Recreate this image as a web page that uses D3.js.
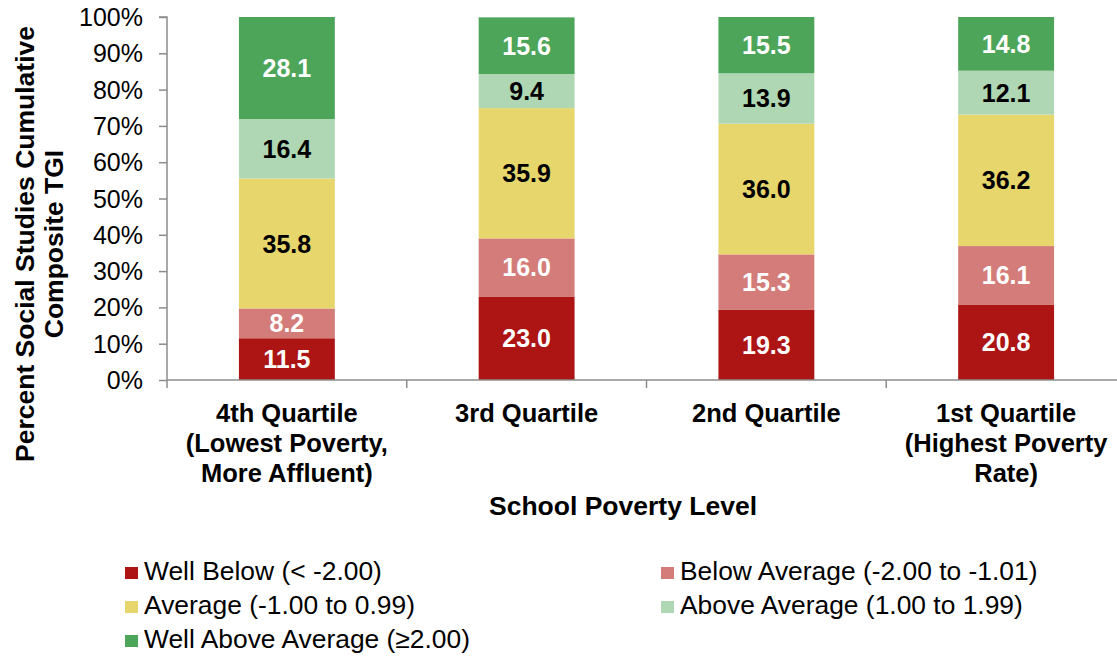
<!DOCTYPE html>
<html>
<head>
<meta charset="utf-8">
<script src="https://cdn.jsdelivr.net/npm/d3@7.9.0/dist/d3.min.js"></script>
<style>
  body { margin: 0; background: #fff; }
  svg { font-family: "Liberation Sans", Arial, sans-serif; }
</style>
</head>
<body>
<svg id="chart" width="1117" height="658"></svg>
<script>
// Data
const categories = [
  ['4th Quartile', '(Lowest Poverty,', 'More Affluent)'],
  ['3rd Quartile'],
  ['2nd Quartile'],
  ['1st Quartile', '(Highest Poverty', 'Rate)']
];
const seriesNames = [
  'Well Below (< -2.00)',
  'Below Average (-2.00 to -1.01)',
  'Average (-1.00 to 0.99)',
  'Above Average (1.00 to 1.99)',
  'Well Above Average (\u22652.00)'
];
const wellBelow    = [11.5, 23.0, 19.3, 20.8];
const belowAverage = [8.2, 16.0, 15.3, 16.1];
const average      = [35.8, 35.9, 36.0, 36.2];
const aboveAverage = [16.4, 9.4, 13.9, 12.1];
const wellAbove    = [28.1, 15.6, 15.5, 14.8];
const yTicks = [0, 10, 20, 30, 40, 50, 60, 70, 80, 90, 100];

const colors = ['#ad1414', '#d37c79', '#e6d66c', '#afd7b3', '#4da55a'];
const labelColors = ['#fff', '#fff', '#000', '#000', '#fff'];

const svg = d3.select('#chart');
const margin = { left: 167, top: 17, bottom: 380 };
const plotWidth = 959;

const rows = categories.map((c, i) => ({
  key: i,
  s0: wellBelow[i], s1: belowAverage[i], s2: average[i], s3: aboveAverage[i], s4: wellAbove[i]
}));
const keys = ['s0', 's1', 's2', 's3', 's4'];
const stacked = d3.stack().keys(keys)(rows);

const x = d3.scaleBand()
  .domain(d3.range(categories.length))
  .range([margin.left, margin.left + plotWidth])
  .paddingInner(0.6)
  .paddingOuter(0.3);

const y = d3.scaleLinear().domain([0, 100]).range([margin.bottom, margin.top]);

// Bars
const layers = svg.append('g').selectAll('g')
  .data(stacked)
  .join('g')
  .attr('fill', (d, i) => colors[i]);

layers.selectAll('rect')
  .data(d => d)
  .join('rect')
  .attr('x', d => x(d.data.key))
  .attr('y', d => y(Math.min(d[1], 100)))
  .attr('width', x.bandwidth())
  .attr('height', d => y(d[0]) - y(Math.min(d[1], 100)));

// Value labels
svg.append('g').selectAll('g')
  .data(stacked)
  .join('g')
  .attr('fill', (d, i) => labelColors[i])
  .selectAll('text')
  .data(d => d)
  .join('text')
  .attr('x', d => x(d.data.key) + x.bandwidth() / 2)
  .attr('y', d => (y(d[0]) + y(Math.min(d[1], 100))) / 2)
  .attr('dy', '0.36em')
  .attr('text-anchor', 'middle')
  .attr('font-size', 25)
  .attr('font-weight', 'bold')
  .text(d => (d[1] - d[0]).toFixed(1));

// Y axis
const yAxis = svg.append('g')
  .attr('transform', `translate(${margin.left},0)`)
  .call(d3.axisLeft(y).tickValues(yTicks).tickSize(8).tickPadding(16).tickFormat(d => d + '%'));
yAxis.selectAll('text')
  .attr('font-size', 25).attr('fill', '#000').attr('dy', '0.34em')
  .attr('font-family', '"Liberation Sans", Arial, sans-serif');
yAxis.selectAll('line, path').attr('stroke', '#8c8c8c').attr('stroke-width', 1.5);
yAxis.select('path').attr('d', `M-8,${margin.top}H0V${margin.bottom}`);

// X axis
const xAxisG = svg.append('g').attr('transform', `translate(0,${margin.bottom})`);
xAxisG.append('line')
  .attr('x1', margin.left).attr('x2', margin.left + plotWidth)
  .attr('stroke', '#8c8c8c').attr('stroke-width', 1.5);
const step = x.step();
xAxisG.selectAll('.sep')
  .data(d3.range(categories.length + 1))
  .join('line')
  .attr('x1', i => margin.left + i * step)
  .attr('x2', i => margin.left + i * step)
  .attr('y1', 0).attr('y2', 8)
  .attr('stroke', '#8c8c8c').attr('stroke-width', 1.5);

svg.append('g').selectAll('text')
  .data(categories)
  .join('text')
  .attr('x', (d, i) => x(i) + x.bandwidth() / 2)
  .attr('y', 422)
  .attr('text-anchor', 'middle')
  .attr('font-size', 25.5)
  .attr('font-weight', 'bold')
  .each(function (lines) {
    d3.select(this).selectAll('tspan')
      .data(lines)
      .join('tspan')
      .attr('x', d3.select(this).attr('x'))
      .attr('dy', (l, j) => j === 0 ? 0 : 30)
      .text(l => l);
  });

svg.append('text')
  .attr('x', 623).attr('y', 515)
  .attr('text-anchor', 'middle')
  .attr('font-size', 26.5).attr('font-weight', 'bold')
  .text('School Poverty Level');

// Y title
const yTitle = svg.append('text')
  .attr('transform', 'translate(34,244) rotate(-90)')
  .attr('text-anchor', 'middle')
  .attr('font-size', 26.5).attr('font-weight', 'bold');
yTitle.append('tspan').attr('x', 0).attr('dy', 0).text('Percent Social Studies Cumulative');
yTitle.append('tspan').attr('x', 0).attr('dy', 29).text('Composite TGI');

// Legend
const legendPos = [
  [125, 580], [661, 580],
  [125, 614], [661, 614],
  [125, 648]
];
const legend = svg.append('g').selectAll('g')
  .data(seriesNames)
  .join('g')
  .attr('transform', (d, i) => `translate(${legendPos[i][0]},${legendPos[i][1]})`);
legend.append('rect')
  .attr('x', 0).attr('y', -13)
  .attr('width', 13).attr('height', 12)
  .attr('fill', (d, i) => colors[i]);
legend.append('text')
  .attr('x', 19)
  .attr('font-size', 26.4)
  .text(d => d);
</script>
</body>
</html>
